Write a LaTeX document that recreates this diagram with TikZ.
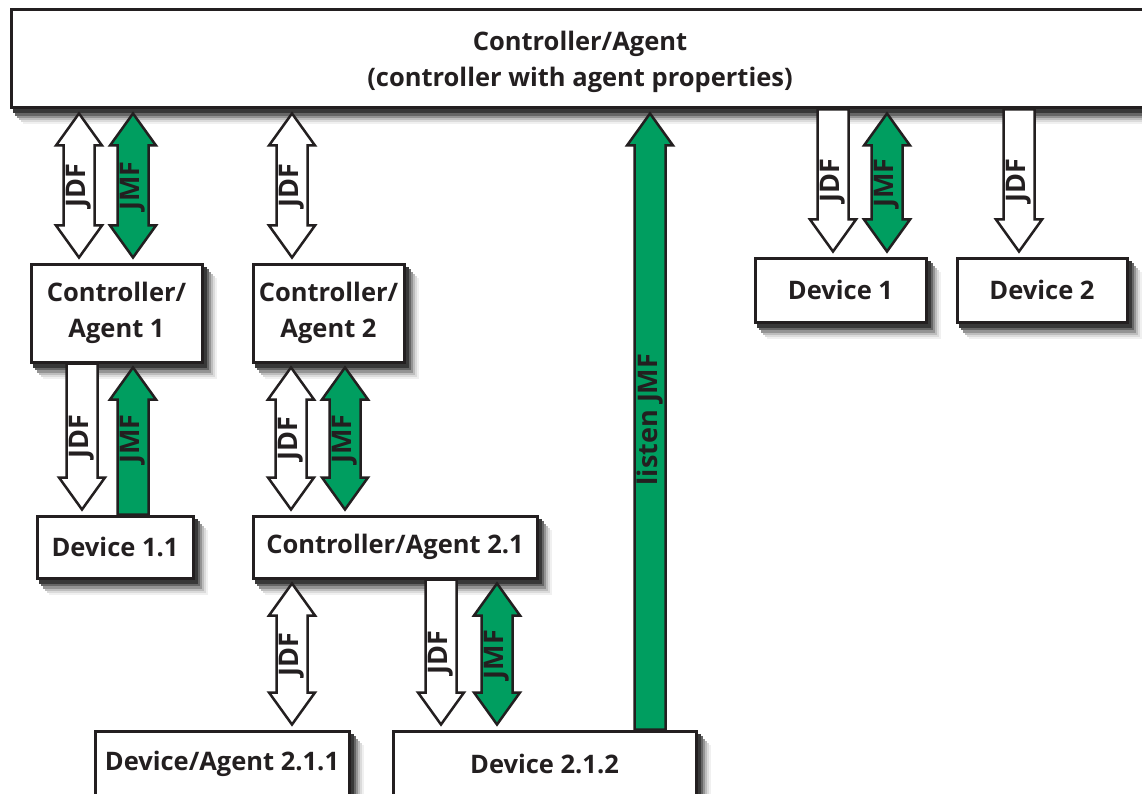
\documentclass[tikz,border=0pt]{standalone}
\usepackage{fontspec}
\setmainfont{Open Sans}
\usetikzlibrary{calc}
\pgfdeclarelayer{background}
\pgfsetlayers{background,main}
\definecolor{jgreen}{RGB}{0,158,96}
\definecolor{ink}{RGB}{35,31,32}
\tikzset{
  box/.style={draw=ink, line width=3pt, fill=white, rectangle, inner sep=0pt,
    font=\bfseries\fontsize{25.5}{36}\selectfont, text=ink, align=center},
  boxtext/.style={inner sep=0pt, font=\bfseries\fontsize{25.5}{36}\selectfont, text=ink, align=center},
  jdfarrow/.style={draw=ink, line width=2.5pt, fill=white, line join=miter},
  jmfarrow/.style={draw=ink, line width=2.5pt, fill=jgreen, line join=miter},
  lab/.style={rotate=90, inner sep=0pt, font=\bfseries\fontsize{27}{30}\selectfont, text=ink},
}
% soft drop shadow behind a named box
\newcommand\shadowof[1]{%
  \begin{pgfonlayer}{background}
  \foreach \dx/\dy/\c in {13/15/6, 11/13/14, 9/11/26, 7/9/42, 5/6.5/60, 3/4/78}
    \fill[black!\c] ($(#1.north west)+(\dx,-\dy)$) rectangle ($(#1.south east)+(\dx,-\dy)$);
  \end{pgfonlayer}%
}
% double arrow: x, style, upper node, lower node, label
\newcommand\fatdbl[5]{%
  \draw[#2] let \p1=(#3.south), \p2=(#4.north) in
    (#1pt,\y1-4pt) -- (#1pt+23pt,\y1-36pt) -- (#1pt+15.5pt,\y1-36pt)
    -- (#1pt+15.5pt,\y2+37pt) -- (#1pt+23pt,\y2+37pt) -- (#1pt,\y2+5pt)
    -- (#1pt-23pt,\y2+37pt) -- (#1pt-15.5pt,\y2+37pt) -- (#1pt-15.5pt,\y1-36pt)
    -- (#1pt-23pt,\y1-36pt) -- cycle;
  \path let \p1=(#3.south), \p2=(#4.north) in
    node[lab] at (#1pt,{(\y1+\y2)/2}) {#5};
}
% single arrow down: x, style, upper, lower, label
\newcommand\fatdown[5]{%
  \draw[#2] let \p1=(#3.south), \p2=(#4.north) in
    (#1pt-15.5pt,\y1) -- (#1pt+15.5pt,\y1)
    -- (#1pt+15.5pt,\y2+37pt) -- (#1pt+23pt,\y2+37pt) -- (#1pt,\y2+5pt)
    -- (#1pt-23pt,\y2+37pt) -- (#1pt-15.5pt,\y2+37pt) -- cycle;
  \path let \p1=(#3.south), \p2=(#4.north) in
    node[lab] at (#1pt,{(\y1+\y2)/2+2pt}) {#5};
}
% single arrow up: x, style, upper, lower, label
\newcommand\fatup[5]{%
  \draw[#2] let \p1=(#3.south), \p2=(#4.north) in
    (#1pt-15.5pt,\y2) -- (#1pt+15.5pt,\y2)
    -- (#1pt+15.5pt,\y1-36pt) -- (#1pt+23pt,\y1-36pt) -- (#1pt,\y1-4pt)
    -- (#1pt-23pt,\y1-36pt) -- (#1pt-15.5pt,\y1-36pt) -- cycle;
  \path let \p1=(#3.south), \p2=(#4.north) in
    node[lab] at (#1pt,{(\y1+\y2)/2}) {#5};
}
\begin{document}
\begin{tikzpicture}[x=1pt,y=1pt]
\useasboundingbox (0,0) rectangle (1142,-794);
\begin{pgfonlayer}{background}
\fill[white] (0,0) rectangle (1142,-794);
\end{pgfonlayer}
\clip (0,0) rectangle (1142,-794);
% boxes
\node[box, minimum width=1141, minimum height=98] (top) at (581.5,-59) {};
\node[boxtext] (toptext) at (580,-62)
  {Controller/Agent\\(controller with agent properties)};
\node[box, minimum width=171, minimum height=98] (ca1) at (116.5,-313) {Controller/\\Agent 1};
\node[box, minimum width=151, minimum height=98] (ca2) at (328.5,-313) {Controller/\\Agent 2};
\node[box, minimum width=156, minimum height=62] (d11) at (115,-547) {Device 1.1};
\node[box, minimum width=284, minimum height=62] (ca21) at (395,-547) {Controller/Agent 2.1};
\node[box, minimum width=254, minimum height=65] (d211) at (222,-763.5) {Device/Agent 2.1.1};
\node[box, minimum width=303, minimum height=65] (d212) at (544.5,-763.5) {Device 2.1.2};
\node[box, minimum width=171, minimum height=64] (dev1) at (840.5,-290) {Device 1};
\node[box, minimum width=170, minimum height=64] (dev2) at (1042,-290) {Device 2};
% shadows
\shadowof{top}\shadowof{ca1}\shadowof{ca2}\shadowof{d11}\shadowof{ca21}
\shadowof{d211}\shadowof{d212}\shadowof{dev1}\shadowof{dev2}
% arrows
\fatdbl{79}{jdfarrow}{top}{ca1}{JDF}
\fatdbl{133}{jmfarrow}{top}{ca1}{JMF}
\fatdbl{292}{jdfarrow}{top}{ca2}{JDF}
\fatdown{82}{jdfarrow}{ca1}{d11}{JDF}
\fatup{133}{jmfarrow}{ca1}{d11}{JMF}
\fatdbl{291}{jdfarrow}{ca2}{ca21}{JDF}
\fatdbl{345}{jmfarrow}{ca2}{ca21}{JMF}
\fatdbl{292}{jdfarrow}{ca21}{d211}{JDF}
\fatdown{441}{jdfarrow}{ca21}{d212}{JDF}
\fatdbl{497}{jmfarrow}{ca21}{d212}{JMF}
\fatup{650}{jmfarrow}{top}{d212}{listen JMF}
\fatdown{833}{jdfarrow}{top}{dev1}{JDF}
\fatdbl{887}{jmfarrow}{top}{dev1}{JMF}
\fatdown{1019}{jdfarrow}{top}{dev2}{JDF}
\end{tikzpicture}
\end{document}
